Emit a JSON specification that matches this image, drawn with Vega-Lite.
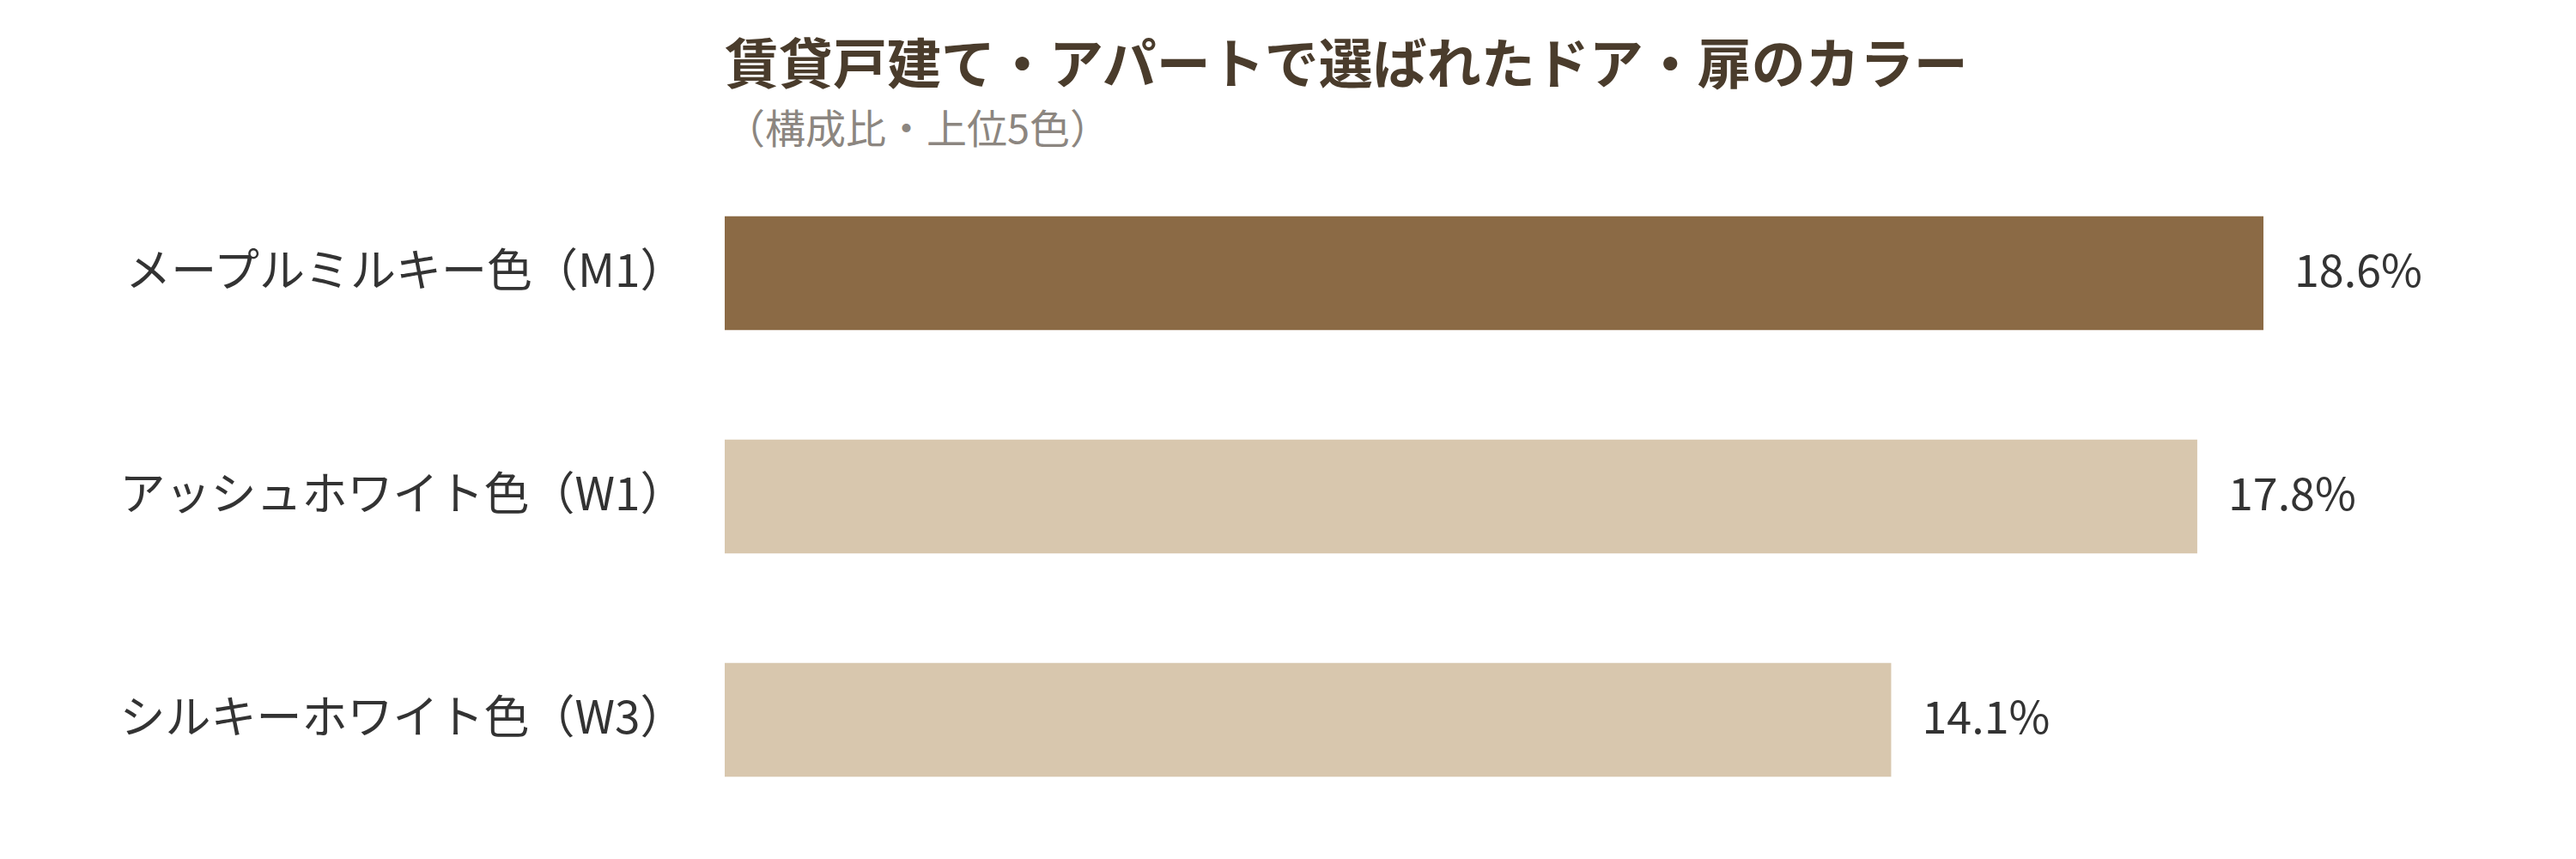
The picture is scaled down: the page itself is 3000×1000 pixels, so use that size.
{
  "$schema": "https://vega.github.io/schema/vega-lite/v6.json",
  "autosize": {"type": "none"},
  "width": 1792,
  "height": 780,
  "padding": {"left": 844, "top": 188, "right": 364, "bottom": 32},
  "background": "white",
  "title": {
    "text": "賃貸戸建て・アパートで選ばれたドア・扉のカラー",
    "subtitle": "（構成比・上位5色）",
    "anchor": "start",
    "frame": "group",
    "font": "Noto Sans CJK JP",
    "fontSize": 63,
    "fontWeight": "bold",
    "color": "#4a3c2c",
    "subtitleFont": "Noto Sans CJK JP",
    "subtitleFontSize": 47,
    "subtitleColor": "#8c8680",
    "subtitlePadding": 20,
    "offset": 12
  },
  "data": {
    "values": [
      {"color": "メープルミルキー色（M1）", "share": 0.186},
      {"color": "アッシュホワイト色（W1）", "share": 0.178},
      {"color": "シルキーホワイト色（W3）", "share": 0.141}
    ]
  },
  "encoding": {
    "y": {
      "field": "color",
      "type": "nominal",
      "sort": null,
      "scale": {"paddingInner": 0.49, "paddingOuter": 0.245},
      "axis": {
        "title": null,
        "domain": false,
        "ticks": false,
        "labelPadding": 46,
        "labelFont": "Noto Sans CJK JP",
        "labelFontSize": 53,
        "labelColor": "#333333",
        "labelLimit": 1000
      }
    },
    "x": {
      "field": "share",
      "type": "quantitative",
      "scale": {"domain": [0, 0.186], "nice": false},
      "axis": null
    }
  },
  "layer": [
    {
      "mark": {"type": "bar"},
      "encoding": {
        "color": {
          "field": "color",
          "type": "nominal",
          "scale": {
            "domain": ["メープルミルキー色（M1）", "アッシュホワイト色（W1）", "シルキーホワイト色（W3）"],
            "range": ["#8b6a45", "#d8c7ae", "#d8c7ae"]
          },
          "legend": null
        }
      }
    },
    {
      "mark": {
        "type": "text",
        "align": "left",
        "baseline": "middle",
        "dx": 36,
        "font": "Noto Sans CJK JP",
        "fontSize": 52,
        "color": "#333333"
      },
      "encoding": {
        "text": {"field": "share", "type": "quantitative", "format": ".1%"}
      }
    }
  ],
  "config": {
    "view": {"stroke": null}
  }
}
